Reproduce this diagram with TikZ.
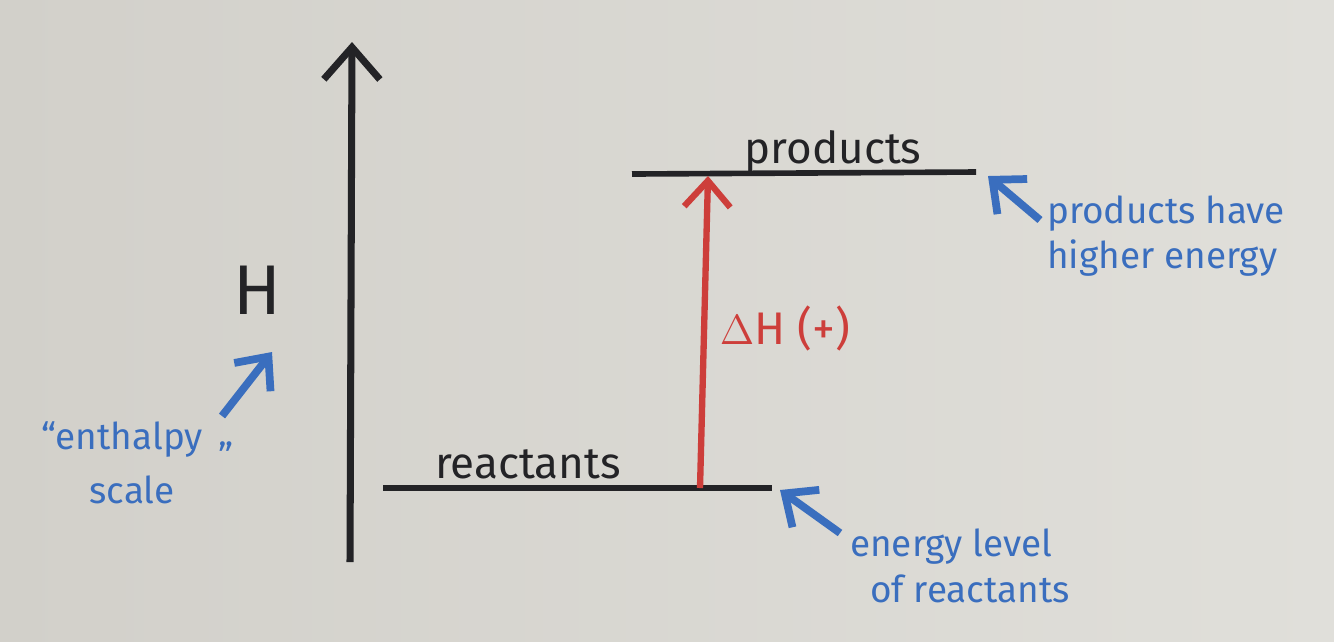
\documentclass[tikz,border=0pt]{standalone}
\usepackage{fontspec}
\setmainfont{Fira Sans}
\usetikzlibrary{arrows.meta}
\definecolor{paper}{RGB}{210,208,202}
\definecolor{paperlight}{RGB}{224,223,218}
\definecolor{ink}{RGB}{35,35,38}
\definecolor{bluepen}{RGB}{58,110,190}
\definecolor{redpen}{RGB}{205,62,58}
\tikzset{
  px/.style={x=0.01cm,y=-0.01cm},
  level/.style={draw=ink,line width=1.6pt},
  axisarrow/.style={draw=ink,line width=2pt,-{Straight Barb[length=3.2mm,width=5.6mm,line width=2pt]}},
  bluearrow/.style={draw=bluepen,line width=2.2pt,-{Straight Barb[length=2.6mm,width=4.6mm,line width=2.2pt]}},
  redarrow/.style={draw=redpen,line width=1.8pt,-{Straight Barb[length=2.6mm,width=4.6mm,line width=1.8pt]}},
  bluetext/.style={text=bluepen,font=\fontsize{10.5}{13}\selectfont,align=left,inner sep=1pt},
  blacktext/.style={text=ink,font=\fontsize{12.5}{14}\selectfont,inner sep=1pt},
  redtext/.style={text=redpen,font=\fontsize{13}{14}\selectfont,inner sep=1pt}
}
\begin{document}
\begin{tikzpicture}[px]
\useasboundingbox (0,0) rectangle (1334,641);
\shade[left color=paper,right color=paperlight] (0,0) rectangle (1334,641);
% axis
\coordinate (axb) at (350,562);
\coordinate (axt) at (352,42);
\draw[axisarrow] (axb) -- (axt);
\node[blacktext,font=\fontsize{20}{20}\selectfont] (H) at (257,290) {H};
% enthalpy label
\node[bluetext] (enth) at (122,440) {“enthalpy};
\node[bluetext] (cq) at (226,456) {”};
\node[bluetext] (scale) at (132,490) {scale};
\coordinate (ea) at (222,416);
\coordinate (eb) at (272,352);
\draw[bluearrow] (ea) -- (eb);
% levels
\coordinate (r1) at (383,488);
\coordinate (r2) at (772,488);
\draw[level] (r1) -- (r2);
\node[blacktext] (react) at (528,464) {reactants};
\coordinate (p1) at (632,174);
\coordinate (p2) at (976,172);
\draw[level] (p1) -- (p2);
\node[blacktext] (prod) at (833,152) {products};
% delta H
\coordinate (d1) at (700,488);
\coordinate (d2) at (708,176);
\draw[redarrow] (d1) -- (d2);
\node[redtext] (dH) at (785,328) {$\Delta$H (+)};
% annotations
\node[bluetext] (prodnote) at (1166,236) {products have\\higher energy};
\coordinate (pa) at (1040,220);
\coordinate (pb) at (988,176);
\draw[bluearrow] (pa) -- (pb);
\node[bluetext] (reactnote) at (960,566) {energy level\\\hspace*{0.2cm}of reactants};
\coordinate (ra) at (840,533);
\coordinate (rb) at (780,490);
\draw[bluearrow] (ra) -- (rb);
\end{tikzpicture}
\end{document}
